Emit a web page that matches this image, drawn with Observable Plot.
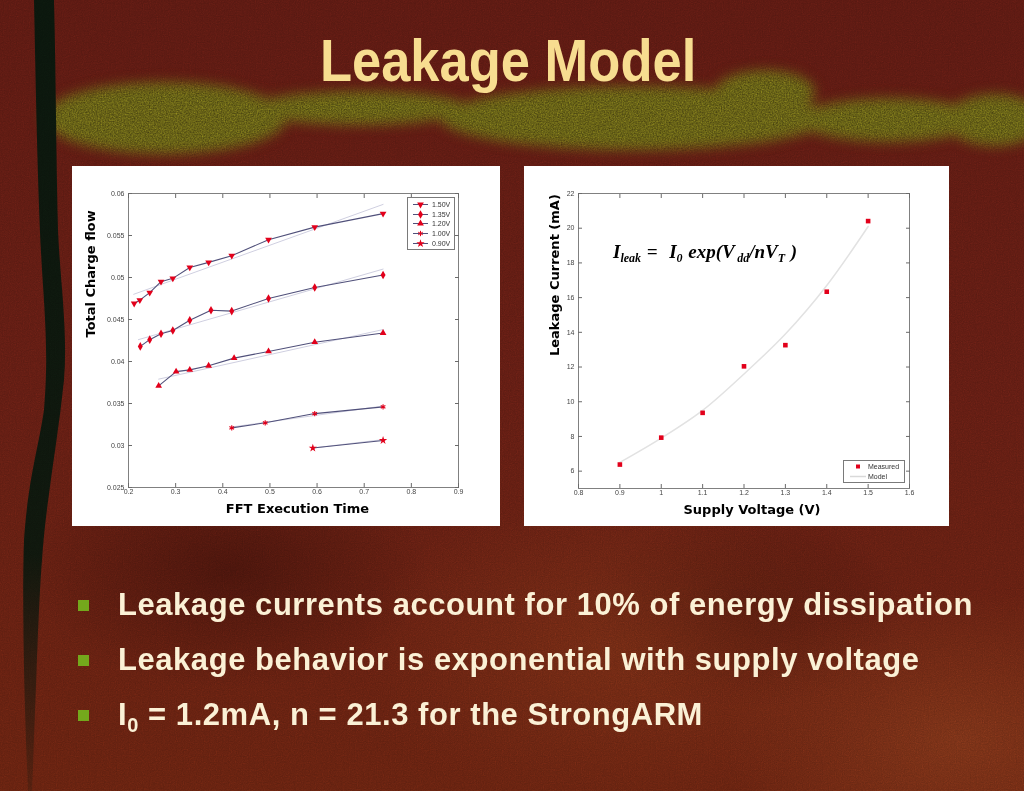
<!DOCTYPE html>
<html><head><meta charset="utf-8">
<script src="https://cdn.jsdelivr.net/npm/d3@7"></script>
<script src="https://cdn.jsdelivr.net/npm/@observablehq/plot@0.6"></script>
<style>
html,body{margin:0;padding:0;background:#5c1b11;}
#slide{position:relative;width:1024px;height:791px;overflow:hidden;
 background:
  radial-gradient(ellipse 260px 160px at 620px 650px, rgba(120,50,22,.5), transparent),
  radial-gradient(ellipse 240px 150px at 960px 740px, rgba(130,60,28,.55), transparent),
  radial-gradient(ellipse 200px 120px at 230px 570px, rgba(40,8,5,.45), transparent),
  radial-gradient(ellipse 160px 100px at 745px 610px, rgba(40,8,5,.35), transparent),
  linear-gradient(180deg,#561811 0%,#5c1b12 50%,#60200f 100%);}
.abs{position:absolute;left:0;top:0;}
#noise{mix-blend-mode:overlay;opacity:.45;}
#title{position:absolute;left:0;width:1017px;top:26px;text-align:center;color:#f7dd90;line-height:60px;}
#title span{display:inline-block;font:bold 60px "Liberation Sans Narrow","Liberation Sans",Arial,sans-serif;transform:scaleX(0.875);}
.panel{position:absolute;background:#fff;}
.panel svg{display:block;}
.b{position:absolute;left:118px;font:bold 31px "Liberation Sans",Arial,sans-serif;color:#fbf1d6;letter-spacing:.55px;white-space:nowrap;line-height:31px;}
.sq{position:absolute;left:78px;width:11px;height:11px;background:#74a81c;}
.legend{position:absolute;background:#fff;border:1px solid #7a7a7a;font:7px "Liberation Sans",Arial,sans-serif;color:#333;box-sizing:border-box;}
.legend .row{display:flex;align-items:center;height:9.6px;white-space:nowrap;}
.legend svg{display:block;}
#eq{position:absolute;left:89px;top:76px;font:italic bold 19px "Liberation Serif","Times New Roman",serif;color:#000;line-height:19px;white-space:nowrap;word-spacing:1px;}
#eq sub{font-size:12px;vertical-align:-4px;line-height:0;}
</style></head>
<body>
<div id="slide">
  <svg class="abs" width="1024" height="791">
    <defs>
      <filter id="bt" filterUnits="userSpaceOnUse" x="0" y="40" width="1024" height="150" color-interpolation-filters="sRGB">
        <feGaussianBlur in="SourceGraphic" stdDeviation="6" result="b"/>
        <feTurbulence type="fractalNoise" baseFrequency="0.75" numOctaves="2" seed="5" result="t"/>
        <feColorMatrix in="t" type="matrix" values="0.3 0 0 0 0.22  0.3 0 0 0 0.2  0.06 0 0 0 0.05  0 0 0 0 1" result="c"/>
        <feComposite in="c" in2="b" operator="in"/>
      </filter>
      <linearGradient id="sg" x1="0" y1="0" x2="0" y2="1">
        <stop offset="0" stop-color="#0a150c" stop-opacity="1"/>
        <stop offset="0.7" stop-color="#0a150c" stop-opacity="0.95"/>
        <stop offset="1" stop-color="#0a150c" stop-opacity="0.2"/></linearGradient>
    </defs>
    <g filter="url(#bt)" fill="#fff">
      <ellipse cx="165" cy="118" rx="122" ry="36"/>
      <ellipse cx="360" cy="108" rx="110" ry="17"/>
      <ellipse cx="635" cy="118" rx="195" ry="32"/>
      <ellipse cx="765" cy="92" rx="50" ry="22"/>
      <ellipse cx="890" cy="120" rx="92" ry="22"/>
      <ellipse cx="995" cy="120" rx="50" ry="26"/>
    </g>
    <path fill="url(#sg)" d="M34,0 C36,100 38,200 42,270 C46,330 48,360 44,410 C38,450 28,480 24,540 C22,600 24,700 28,791 L32,791 C36,700 38,610 42,560 C46,500 58,440 64,380 C68,330 60,280 58,230 C56,150 56,80 54,0 Z"/>
  </svg>
  <svg id="noise" class="abs" width="1024" height="791">
    <filter id="nf"><feTurbulence type="fractalNoise" baseFrequency="0.85" numOctaves="2" seed="3"/><feColorMatrix type="saturate" values="0"/></filter>
    <rect width="1024" height="791" filter="url(#nf)"/>
  </svg>
  <div id="title"><span>Leakage Model</span></div>

  <div class="panel" id="pl" style="left:72px;top:166px;width:428px;height:360px"></div>
  <div class="panel" id="pr" style="left:524px;top:166px;width:425px;height:360px"></div>

  <div class="sq" style="top:600px"></div>
  <div class="b" style="top:589px">Leakage currents account for 10% of energy dissipation</div>
  <div class="sq" style="top:655px"></div>
  <div class="b" style="top:644px">Leakage behavior is exponential with supply voltage</div>
  <div class="sq" style="top:710px"></div>
  <div class="b" style="top:699px">I<span style="font-size:20px;position:relative;top:7px">0</span> = 1.2mA, n = 21.3 for the StrongARM</div>
</div>
<script>
// ---- Left chart data: Total charge flow vs FFT execution time ----
const voltages = ["1.50V","1.35V","1.20V","1.00V","0.90V"];
const t150 = [0.212,0.224,0.245,0.269,0.294,0.330,0.370,0.419,0.497,0.595,0.740];
const q150 = [0.0469,0.0473,0.0482,0.0495,0.0499,0.0512,0.0518,0.0526,0.0545,0.0560,0.0576];
const t135 = [0.225,0.245,0.269,0.294,0.330,0.375,0.419,0.497,0.595,0.740];
const q135 = [0.0418,0.0426,0.0433,0.0437,0.0449,0.0461,0.0460,0.0475,0.0488,0.0503];
const t120 = [0.264,0.301,0.330,0.370,0.424,0.497,0.595,0.740];
const q120 = [0.0371,0.0388,0.0390,0.0395,0.0404,0.0412,0.0423,0.0434];
const t100 = [0.419,0.490,0.595,0.740];
const q100 = [0.0321,0.0327,0.0338,0.0346];
const t090 = [0.591,0.740];
const q090 = [0.0297,0.0306];
// fitted (model) lines, endpoints
const fitT150 = [0.211,0.740], fitQ150 = [0.0480,0.0587];
const fitT135 = [0.221,0.740], fitQ135 = [0.0426,0.0510];
const fitT120 = [0.264,0.740], fitQ120 = [0.0379,0.0438];
const fitT100 = [0.419,0.740], fitQ100 = [0.0322,0.0347];
const fitT090 = [0.591,0.740], fitQ090 = [0.0297,0.0307];
const xTicksL = [0.2,0.3,0.4,0.5,0.6,0.7,0.8,0.9];
const yTicksL = [0.025,0.03,0.035,0.04,0.045,0.05,0.055,0.06];

// ---- Right chart data: leakage current vs supply voltage ----
const vdd = [0.9,1,1.1,1.2,1.3,1.4,1.5];
const measured = [6.38,7.93,9.36,12.04,13.26,16.34,20.41];
const model = [6.5,7.9,9.5,11.6,13.9,16.7,20.1];
const xTicksR = [0.8,0.9,1,1.1,1.2,1.3,1.4,1.5,1.6];
const yTicksR = [6,8,10,12,14,16,18,20,22];

const RED = "#e2001b", LINE = "#50507a", FIT = "#cfcfe0", AX = "#6a6a6a", TXT = "#444";
const FONT = "Liberation Sans, Arial, sans-serif";
const LBL = "DejaVu Sans, Verdana, sans-serif";
const rows = (xs, ys) => xs.map((x, i) => ({x, y: ys[i]}));

const seriesT = [t150,t135,t120,t100,t090];
const seriesQ = [q150,q135,q120,q100,q090];
const fitsT = [fitT150,fitT135,fitT120,fitT100,fitT090];
const fitsQ = [fitQ150,fitQ135,fitQ120,fitQ100,fitQ090];
const markerOpts = [
  {symbol:"triangle", rotate:180, r:2.5, fill:RED},
  {symbol:"diamond", r:2.6, fill:RED},
  {symbol:"triangle", r:2.5, fill:RED},
  {symbol:"asterisk", r:2.5, stroke:RED, strokeWidth:1.1},
  {symbol:"star", r:2.6, fill:RED}
];

function axes(xT, yT) {
  return [
    Plot.frame({stroke:"#808080"}),
    Plot.axisX(xT, {anchor:"bottom", tickSize:0, tickPadding:2, tickFormat:d=>String(d), label:null, fill:TXT, fontSize:7}),
    Plot.axisY(yT, {anchor:"left", tickSize:0, tickPadding:4, tickFormat:d=>String(d), label:null, fill:TXT, fontSize:7}),
    Plot.axisX(xT, {anchor:"bottom", tickSize:-4, tickFormat:()=>"", label:null, stroke:AX}),
    Plot.axisX(xT, {anchor:"top", tickSize:-4, tickFormat:()=>"", label:null, stroke:AX}),
    Plot.axisY(yT, {anchor:"left", tickSize:-4, tickFormat:()=>"", label:null, stroke:AX}),
    Plot.axisY(yT, {anchor:"right", tickSize:-4, tickFormat:()=>"", label:null, stroke:AX})
  ];
}

// Left plot
const marksL = [...axes(xTicksL, yTicksL)];
seriesT.forEach((ts, i) => {
  marksL.push(Plot.line(rows(fitsT[i], fitsQ[i]), {x:"x", y:"y", stroke:FIT, strokeWidth:1}));
  marksL.push(Plot.line(rows(ts, seriesQ[i]), {x:"x", y:"y", stroke:LINE, strokeWidth:1.1}));
  marksL.push(Plot.dot(rows(ts, seriesQ[i]), {x:"x", y:"y", ...markerOpts[i]}));
});
marksL.push(Plot.text(["FFT Execution Time"], {frameAnchor:"bottom", dy:25, dx:4, fontSize:13, fontWeight:"bold", fontFamily:LBL, fill:"#000"}));
marksL.push(Plot.text(["Total Charge flow"], {frameAnchor:"left", rotate:-90, dx:-38, dy:-3, fontSize:13, fontWeight:"bold", fontFamily:LBL, fill:"#000"}));

const left = Plot.plot({
  width:428, height:360, marginLeft:56, marginRight:42, marginTop:27, marginBottom:39,
  x:{type:"linear", domain:[0.2,0.9]}, y:{type:"linear", domain:[0.025,0.06]},
  style:{background:"white", fontFamily:FONT, fontSize:"7px", overflow:"visible"},
  marks: marksL
});
document.getElementById("pl").appendChild(left);

// Left legend
const lg = document.createElement("div");
lg.className = "legend";
Object.assign(lg.style, {left:"335px", top:"31px", width:"48px", height:"53px", padding:"2px 0 0 3px"});
voltages.forEach((v, i) => {
  const m = markerOpts[i];
  const row = document.createElement("div"); row.className = "row";
  const typ = {triangle:d3.symbolTriangle, diamond:d3.symbolDiamond, asterisk:d3.symbolAsterisk, star:d3.symbolStar}[m.symbol];
  const path = d3.symbol(typ, Math.PI * m.r * m.r)();
  row.innerHTML = `<svg width="19" height="9"><line x1="2" x2="17" y1="4.5" y2="4.5" stroke="${LINE}"/>` +
    `<path d="${path}" transform="translate(9.5,4.5) rotate(${m.rotate||0})" fill="${m.fill||"none"}" stroke="${m.stroke||"none"}"/></svg>` +
    `<span style="margin-left:2px">${v}</span>`;
  lg.appendChild(row);
});
document.getElementById("pl").appendChild(lg);

// Right plot
const right = Plot.plot({
  width:425, height:360, marginLeft:54, marginRight:40, marginTop:27, marginBottom:38,
  x:{type:"linear", domain:[0.8,1.6]}, y:{type:"linear", domain:[5,22]},
  style:{background:"white", fontFamily:FONT, fontSize:"7px", overflow:"visible"},
  marks:[
    ...axes(xTicksR, yTicksR),
    Plot.line(rows(vdd, model), {x:"x", y:"y", stroke:"#e2e2e2", strokeWidth:1.5, curve:"catmull-rom"}),
    Plot.dot(rows(vdd, measured), {x:"x", y:"y", symbol:"square", r:2.6, fill:RED}),
    Plot.text(["Supply Voltage (V)"], {frameAnchor:"bottom", dy:25, dx:8, fontSize:13, fontWeight:"bold", fontFamily:LBL, fill:"#000"}),
    Plot.text(["Leakage Current (mA)"], {frameAnchor:"left", rotate:-90, dx:-24, dy:15, fontSize:13, fontWeight:"bold", fontFamily:LBL, fill:"#000"})
  ]
});
document.getElementById("pr").appendChild(right);

const eq = document.createElement("div");
eq.id = "eq";
eq.innerHTML = "I<sub>leak</sub> = &nbsp;I<sub>0</sub> exp(V<sub>&thinsp;dd</sub>/nV<sub>T</sub> )";
document.getElementById("pr").appendChild(eq);

const rg = document.createElement("div");
rg.className = "legend";
Object.assign(rg.style, {left:"319px", top:"294px", width:"62px", height:"23px", padding:"1px 0 0 4px"});
rg.innerHTML = `<div class="row"><svg width="20" height="9"><rect x="8" y="2.5" width="4" height="4" fill="${RED}"/></svg><span>Measured</span></div>` +
  `<div class="row"><svg width="20" height="9"><line x1="2" x2="18" y1="4.5" y2="4.5" stroke="#d9d9d9" stroke-width="1.5"/></svg><span>Model</span></div>`;
document.getElementById("pr").appendChild(rg);
</script>
</body></html>
